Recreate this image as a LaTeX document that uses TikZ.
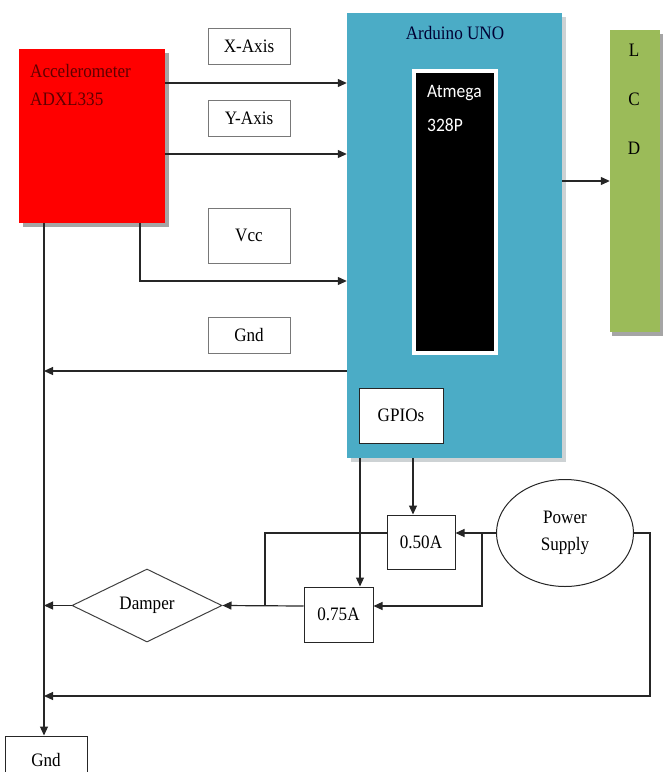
\documentclass[tikz,border=0pt]{standalone}
\usepackage{fontspec}
\setmainfont[FakeStretch=0.9]{Liberation Serif}
\newfontfamily\calfont[FakeStretch=0.92]{Carlito}
\usetikzlibrary{arrows.meta,shapes.geometric}
\definecolor{accred}{RGB}{255,0,0}
\definecolor{accblue}{RGB}{75,172,198}
\definecolor{accgreen}{RGB}{155,187,89}
\definecolor{shadowgray}{RGB}{165,165,165}
\definecolor{lightshadow}{RGB}{205,210,212}
\definecolor{darkredtext}{RGB}{95,0,0}
\definecolor{labgray}{RGB}{120,120,120}
\begin{document}
\begin{tikzpicture}[x=1pt,y=-1pt,
  every node/.style={font=\fontsize{19}{22}\selectfont, inner sep=0pt},
  labbox/.style={draw=labgray, line width=0.8pt, fill=white, minimum width=82pt, minimum height=36pt},
  blkbox/.style={draw=black!85, line width=1pt, fill=white},
  wire/.style={line width=1.2pt, draw=black!85},
  arr/.style={wire, -{Triangle[length=9pt,width=8pt]}},
]
\useasboundingbox (0,0) rectangle (663,772);
\clip (0,0) rectangle (663,772);
% shadows
\fill[shadowgray] (23,53) rectangle (169,227);
\fill[lightshadow] (351,17) rectangle (566,462);
\fill[shadowgray] (612,34) rectangle (663,336);
% main blocks
\node[fill=accred, minimum width=146pt, minimum height=174pt] (acc) at (92,136) {};
\node[anchor=west, text=darkredtext] (acct1) at (30,71) {Accelerometer};
\node[anchor=west, text=darkredtext] (acct2) at (30,99) {ADXL335};
\node[fill=accblue, minimum width=215pt, minimum height=445pt] (ard) at (454.5,235.5) {};
\node[text=black!80!blue] (ardt) at (455,33) {Arduino UNO};
\node[fill=black, draw=white, line width=4pt, minimum width=82pt, minimum height=282pt] (atm) at (455,211.5) {};
\node[anchor=west, text=white, font=\calfont\fontsize{19}{22}\selectfont] (atmt1) at (427,93) {Atmega};
\node[anchor=west, text=white, font=\calfont\fontsize{19}{22}\selectfont] (atmt2) at (427,125) {328P};
\node[blkbox, minimum width=84pt, minimum height=55pt] (gpio) at (401,415.5) {GPIOs};
\node[fill=accgreen, minimum width=50pt, minimum height=302pt] (lcd) at (635,181) {};
\node (lcdl) at (634,50) {L};
\node (lcdc) at (634,99) {C};
\node (lcdd) at (634,148) {D};
% label boxes
\node[labbox] (xl) at (249,46) {X-Axis};
\node[labbox] (yl) at (249,118.5) {Y-Axis};
\node[labbox, minimum height=55pt] (vl) at (249,235.5) {Vcc};
\node[labbox] (gl) at (249,335) {Gnd};
% lower part
\node[blkbox, minimum width=68pt, minimum height=54pt] (a50) at (421,542) {0.50A};
\node[blkbox, minimum width=69pt, minimum height=55pt] (a75) at (338.5,614.5) {0.75A};
\node[draw=black!85, line width=1pt, ellipse, minimum width=137pt, minimum height=107pt, align=center, font=\fontsize{19}{27}\selectfont] (ps) at (565,533) {Power\\Supply};
\node[draw=black!75, line width=1pt, diamond, minimum width=150pt, minimum height=73pt] (damp) at (147,605.5) {Damper};
\node[draw=black!85, line width=1pt, fill=white, minimum width=82pt, minimum height=44pt] (gnd2) at (46,758) {};
\node (gnd2t) at (46,760) {Gnd};
% junction coordinates
\coordinate (lv) at (44,0);
\coordinate (j1) at (482,533);
\coordinate (j2) at (265,533);
\coordinate (j3) at (650,533);
% connectors
\draw[arr] (acc.east |- 0,83) -- (ard.west |- 0,83);
\draw[arr] (acc.east |- 0,154) -- (ard.west |- 0,154);
\draw[arr] (acc.south -| 140,0) -- (140,281) -- (ard.west |- 0,281);
\draw[arr] (ard.west |- 0,371) -- (44,371);
\draw[arr] (ard.east |- 0,181) -- (lcd.west |- 0,181);
\draw[arr] (acc.south -| lv) -- (gnd2.north -| lv);
\draw[arr] (ard.south -| 360,0) -- (a75.north -| 360,0);
\draw[arr] (ard.south -| 413,0) -- (a50.north -| 413,0);
\draw[arr] (ps.west) -- (a50.east |- ps.west);
\draw[arr] (j1) -- (482,606) -- (a75.east |- 0,606);
\draw[wire] (a50.west |- j2) -- (j2) -- (265,606);
\draw[arr] (a75.west |- 0,606) -- (damp.east);
\draw[arr] (damp.west) -- (damp.west -| lv);
\draw[arr] (ps.east) -- (j3) -- (650,696) -- (44,696);
\end{tikzpicture}
\end{document}
